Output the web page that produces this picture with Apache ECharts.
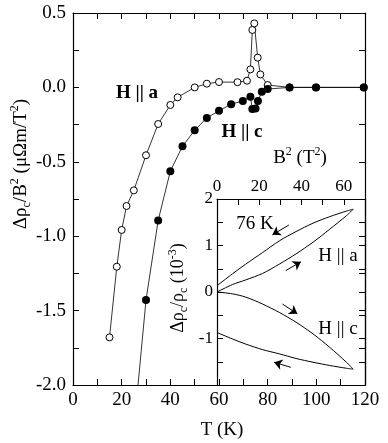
<!DOCTYPE html>
<html>
<head>
<meta charset="utf-8">
<script src="https://cdn.jsdelivr.net/npm/echarts@6/dist/echarts.min.js"></script>
<style>
  html, body { margin: 0; padding: 0; background: #fff; }
  #main { width: 388px; height: 443px; }
</style>
</head>
<body>
<div id="main"></div>
<script>
// main panel: H || a (open) and H || c (filled)
var tempA = [15, 18, 20, 22, 25, 30, 35, 40, 43, 50, 55, 60, 67.6, 71.5, 72.9, 73.7, 74.5, 75.9, 77, 80, 89, 100, 119.5];
var rhoA = [-1.68, -1.205, -0.958, -0.797, -0.692, -0.456, -0.246, -0.118, -0.067, 0.0, 0.025, 0.036, 0.035, 0.045, 0.121, 0.386, 0.43, 0.2, 0.087, 0.016, 0, 0, 0];
var tempC = [25, 30, 35, 40, 45, 50, 55, 60, 65, 69.8, 72.9, 73.7, 75, 76, 77.6, 80, 89, 99.8, 119.5];
var rhoC = [-2.3, -1.429, -0.894, -0.563, -0.395, -0.288, -0.205, -0.157, -0.113, -0.091, -0.062, -0.145, -0.141, -0.091, -0.029, -0.011, 0, 0, 0];

// inset: 76 K field sweeps, B^2 in T^2, drho/rho in 1e-3
var fieldSq = [0, 7.3, 13.6, 21.6, 29.5, 37.4, 45.4, 53.3, 61.2, 64.4];
var aUp = [0, 0.16, 0.26, 0.40, 0.60, 0.82, 1.07, 1.35, 1.64, 1.78];
var aDown = [0.135, 0.39, 0.60, 0.85, 1.10, 1.30, 1.48, 1.62, 1.74, 1.78];
var cUp = [0, -0.04, -0.11, -0.26, -0.44, -0.65, -0.90, -1.19, -1.51, -1.66];
var cDown = [-0.87, -1.01, -1.12, -1.24, -1.33, -1.43, -1.51, -1.58, -1.64, -1.66];

// sweep direction arrows, [from, to] in inset coordinates
var arrowsA = [[[34, 1.44], [26.2, 1.23]], [[32.5, 0.46], [39.7, 0.65]]];
var arrowsC = [[[31, -0.26], [38, -0.47]], [[34.9, -1.62], [27, -1.51]]];

var FONT = 'Liberation Serif';

function zip(xs, ys) {
    return xs.map(function (x, i) { return [x, ys[i]]; });
}
function loop(xs, up, down) {
    var d = zip(xs, up);
    for (var i = xs.length - 2; i >= 0; i--) d.push([xs[i], down[i]]);
    return d;
}
function arrowLines(list) {
    return list.map(function (a) { return [{ coord: a[0] }, { coord: a[1] }]; });
}

function axisStyle(extra) {
    var base = {
        axisLine: { show: true, onZero: false, lineStyle: { color: '#000', width: 1.2 } },
        axisTick: { show: true, inside: true, length: 6, lineStyle: { color: '#000' } },
        minorTick: { show: true, splitNumber: 2, length: 6, lineStyle: { color: '#000' } },
        splitLine: { show: false },
        axisLabel: { show: false, color: '#000', fontFamily: FONT, fontSize: 19 }
    };
    for (var k in extra) {
        if (typeof extra[k] === 'object' && base[k]) {
            for (var j in extra[k]) base[k][j] = extra[k][j];
        } else {
            base[k] = extra[k];
        }
    }
    return base;
}

var myChart = echarts.init(document.getElementById('main'));

var arrowMark = function (list) {
    return {
        silent: true, symbol: ['none', 'arrow'], symbolSize: 8,
        label: { show: false },
        lineStyle: { color: '#000', width: 1, type: 'solid' },
        itemStyle: { color: '#000' },
        data: arrowLines(list)
    };
};

var option = {
    backgroundColor: '#fff',
    animation: false,
    grid: [
        { left: 73, right: 23, top: 13, bottom: 58 },
        { left: 217, right: 23, top: 199, bottom: 58, show: true, backgroundColor: '#fff', borderWidth: 0, z: -1 }
    ],
    xAxis: [
        axisStyle({ type: 'value', gridIndex: 0, min: 0, max: 120, interval: 20, position: 'bottom',
            axisLabel: { show: true, margin: 6 } }),
        axisStyle({ type: 'value', gridIndex: 0, min: 0, max: 120, interval: 20, position: 'top' }),
        axisStyle({ type: 'value', gridIndex: 1, min: 0, max: 70, interval: 20, position: 'top',
            axisLabel: { show: true, margin: 4, fontSize: 17, showMaxLabel: false } }),
        axisStyle({ type: 'value', gridIndex: 1, min: 0, max: 70, interval: 20, position: 'bottom',
            axisTick: { show: false }, minorTick: { show: false } })
    ],
    yAxis: [
        axisStyle({ type: 'value', gridIndex: 0, min: -2, max: 0.5, interval: 0.5, position: 'left',
            axisLabel: { show: true, margin: 7, formatter: function (v) { return v.toFixed(1); } } }),
        axisStyle({ type: 'value', gridIndex: 0, min: -2, max: 0.5, interval: 0.5, position: 'right' }),
        axisStyle({ type: 'value', gridIndex: 1, min: -2, max: 2, interval: 1, position: 'left',
            axisLabel: { show: true, margin: 4, fontSize: 17, showMinLabel: false } }),
        axisStyle({ type: 'value', gridIndex: 1, min: -2, max: 2, interval: 1, position: 'right' })
    ],
    series: [
        {
            type: 'line', xAxisIndex: 0, yAxisIndex: 0,
            data: zip(tempA, rhoA),
            symbol: 'circle', symbolSize: 7,
            itemStyle: { color: '#fff', borderColor: '#000', borderWidth: 1 },
            lineStyle: { color: '#000', width: 0.8 }
        },
        {
            type: 'line', xAxisIndex: 0, yAxisIndex: 0,
            data: zip(tempC, rhoC),
            symbol: 'circle', symbolSize: 8,
            itemStyle: { color: '#000', borderColor: '#000', borderWidth: 0 },
            lineStyle: { color: '#000', width: 0.8 }
        },
        {
            type: 'line', xAxisIndex: 2, yAxisIndex: 2,
            data: loop(fieldSq, aUp, aDown),
            showSymbol: false, smooth: 0.3,
            lineStyle: { color: '#000', width: 1 },
            markLine: arrowMark(arrowsA)
        },
        {
            type: 'line', xAxisIndex: 2, yAxisIndex: 2,
            data: loop(fieldSq, cUp, cDown),
            showSymbol: false, smooth: 0.3,
            lineStyle: { color: '#000', width: 1 },
            markLine: arrowMark(arrowsC)
        }
    ],
    graphic: [
        { type: 'text', x: 21, y: 164, rotation: Math.PI / 2,
          style: { text: '{n|Δρ}{sub|c}{n|/B}{sup|2}{n| (μΩm/T}{sup|2}{n|)}', align: 'center', verticalAlign: 'middle',
            rich: {
                n: { fontFamily: FONT, fontSize: 19, lineHeight: 24, fill: '#000' },
                sub: { fontFamily: FONT, fontSize: 12, lineHeight: 12, verticalAlign: 'bottom', fill: '#000' },
                sup: { fontFamily: FONT, fontSize: 12, lineHeight: 12, verticalAlign: 'top', fill: '#000' }
            } } },
        { type: 'text', x: 222, y: 430,
          style: { text: 'T (K)', font: '19px "Liberation Serif"', fill: '#000', align: 'center', verticalAlign: 'middle' } },
        { type: 'text', x: 137, y: 93,
          style: { text: 'H || a', font: 'bold 19px "Liberation Serif"', fill: '#000', align: 'center', verticalAlign: 'middle' } },
        { type: 'text', x: 242, y: 132,
          style: { text: 'H || c', font: 'bold 19px "Liberation Serif"', fill: '#000', align: 'center', verticalAlign: 'middle' } },
        { type: 'text', x: 300, y: 158,
          style: { text: '{n|B}{sup|2}{n| (T}{sup|2}{n|)}', align: 'center', verticalAlign: 'middle',
            rich: {
                n: { fontFamily: FONT, fontSize: 19, lineHeight: 24, fill: '#000' },
                sup: { fontFamily: FONT, fontSize: 12, lineHeight: 12, verticalAlign: 'top', fill: '#000' }
            } } },
        { type: 'text', x: 178, y: 288, rotation: Math.PI / 2,
          style: { text: '{n|Δρ}{sub|c}{n|/ρ}{sub|c}{n| (10}{sup|-3}{n|)}', align: 'center', verticalAlign: 'middle',
            rich: {
                n: { fontFamily: FONT, fontSize: 18, lineHeight: 23, fill: '#000' },
                sub: { fontFamily: FONT, fontSize: 12, lineHeight: 12, verticalAlign: 'bottom', fill: '#000' },
                sup: { fontFamily: FONT, fontSize: 12, lineHeight: 12, verticalAlign: 'top', fill: '#000' }
            } } },
        { type: 'text', x: 255, y: 224,
          style: { text: '76 K', font: '19px "Liberation Serif"', fill: '#000', align: 'center', verticalAlign: 'middle' } },
        { type: 'text', x: 338, y: 256,
          style: { text: 'H || a', font: '19px "Liberation Serif"', fill: '#000', align: 'center', verticalAlign: 'middle' } },
        { type: 'text', x: 338, y: 329,
          style: { text: 'H || c', font: '19px "Liberation Serif"', fill: '#000', align: 'center', verticalAlign: 'middle' } }
    ]
};

option && myChart.setOption(option);
</script>
</body>
</html>
